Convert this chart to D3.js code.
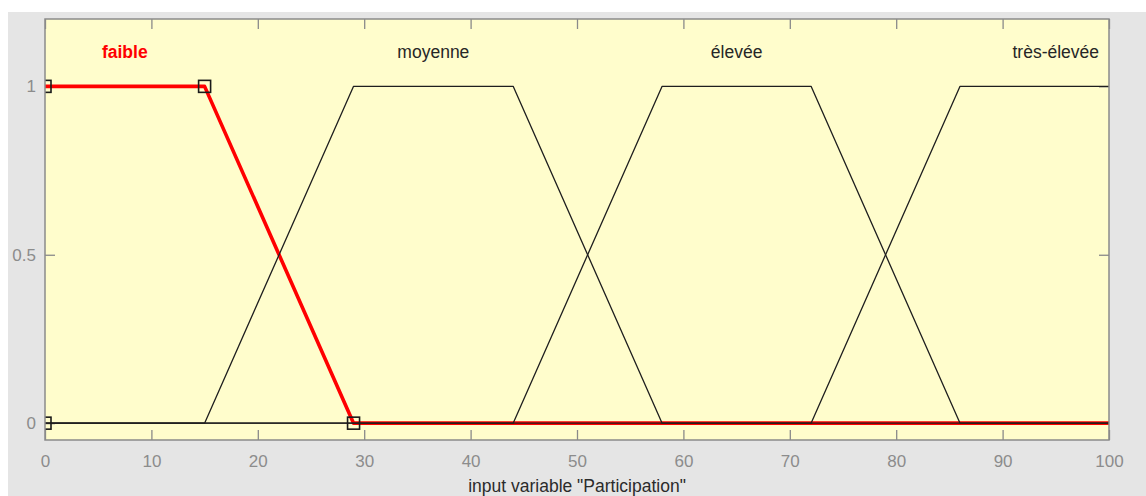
<!DOCTYPE html>
<html>
<head>
<meta charset="utf-8">
<script src="https://cdn.jsdelivr.net/npm/d3@7"></script>
<style>
  html, body { margin: 0; padding: 0; background: #ffffff; }
  svg { display: block; }
  text { font-family: "Liberation Sans", Arial, Helvetica, sans-serif; }
</style>
</head>
<body>
<svg id="chart" width="1146" height="496"></svg>
<script>
// ---- data ----
const categories = ["faible", "moyenne", "élevée", "très-élevée"];
const mfParams = [
  [0, 0, 15, 29],
  [15, 29, 44, 58],
  [44, 58, 72, 86],
  [72, 86, 100, 100]
];
const labelX = [7.5, 36.5, 65, 95];
const selectedMF = "faible";
const xRange = [0, 100];
const yRange = [-0.05, 1.2];
const xTicks = [0, 10, 20, 30, 40, 50, 60, 70, 80, 90, 100];
const yTicks = [0, 0.5, 1];
const yTickLabels = ["0", "0.5", "1"];
const xLabel = 'input variable "Participation"';

// ---- layout ----
const W = 1146, H = 496;
const plot = { left: 45, right: 1109, top: 19, bottom: 440 };

const svg = d3.select("#chart");
svg.append("rect").attr("x", 8).attr("y", 12).attr("width", W - 8).attr("height", H - 12).attr("fill", "#e5e5e5");
svg.append("rect").attr("x", plot.left).attr("y", plot.top)
  .attr("width", plot.right - plot.left).attr("height", plot.bottom - plot.top)
  .attr("fill", "#fffdcc");

const x = d3.scaleLinear().domain(xRange).range([plot.left, plot.right]);
const y = d3.scaleLinear().domain(yRange).range([plot.bottom, plot.top]);

svg.append("defs").append("clipPath").attr("id", "clip")
  .append("rect").attr("x", plot.left).attr("y", plot.top)
  .attr("width", plot.right - plot.left).attr("height", plot.bottom - plot.top);

// ---- axes (ticks inward) ----
const tickLen = 10;
const axisColor = "#8a8a8a";
const bottomAxis = svg.append("g").attr("transform", `translate(0,${plot.bottom})`)
  .call(d3.axisBottom(x).tickValues(xTicks).tickSizeInner(-tickLen).tickSizeOuter(0).tickPadding(15).tickFormat(d3.format("d")));
const topAxis = svg.append("g").attr("transform", `translate(0,${plot.top})`)
  .call(d3.axisTop(x).tickValues(xTicks).tickSizeInner(-tickLen).tickSizeOuter(0).tickFormat(""));
const leftAxis = svg.append("g").attr("transform", `translate(${plot.left},0)`)
  .call(d3.axisLeft(y).tickValues(yTicks).tickSizeInner(-tickLen).tickSizeOuter(0).tickPadding(9)
    .tickFormat((d, i) => yTickLabels[i]));
const rightAxis = svg.append("g").attr("transform", `translate(${plot.right},0)`)
  .call(d3.axisRight(y).tickValues(yTicks).tickSizeInner(-tickLen).tickSizeOuter(0).tickFormat(""));

[bottomAxis, topAxis, leftAxis, rightAxis].forEach(g => {
  g.select(".domain").remove();
  g.selectAll(".tick line").attr("stroke", axisColor).attr("stroke-width", 1.3);
  g.selectAll(".tick text").attr("fill", "#8c8c8c").style("font-size", "17px")
    .style("font-family", '"Liberation Sans", Arial, sans-serif');
});
bottomAxis.selectAll(".tick text").attr("dy", "0.71em");

// ---- membership functions ----
function vertices(p) {
  const [a, b, c, d] = p;
  const pts = [];
  if (a > xRange[0]) { pts.push([xRange[0], 0]); pts.push([a, 0]); }
  pts.push([b, 1]);
  pts.push([c, 1]);
  if (d > c) pts.push([d, 0]);
  if (d < xRange[1]) pts.push([xRange[1], 0]);
  return pts;
}
const line = d3.line().x(d => x(d[0])).y(d => y(d[1]));
const mfG = svg.append("g").attr("clip-path", "url(#clip)");

const mfData = categories.map((name, i) => ({ name, params: mfParams[i], pts: vertices(mfParams[i]), lx: labelX[i] }));
const sel = mfData.find(d => d.name === selectedMF);

// selected (red, thick) first
mfG.append("path").attr("d", line(sel.pts)).attr("fill", "none")
  .attr("stroke", "#ff0000").attr("stroke-width", 3.6).attr("stroke-linejoin", "round");

// others (black, thin) on top
mfG.selectAll("path.mf").data(mfData.filter(d => d.name !== selectedMF)).join("path")
  .attr("class", "mf").attr("d", d => line(d.pts)).attr("fill", "none")
  .attr("stroke", "#1e1e1e").attr("stroke-width", 1.3).attr("stroke-linejoin", "round");

// markers on selected
const mk = [[sel.params[0], 0], [sel.params[1], 1], [sel.params[2], 1], [sel.params[3], 0]];
const sq = 12;
mfG.selectAll("rect.mk").data(mk).join("rect").attr("class", "mk")
  .attr("x", d => x(d[0]) - sq / 2).attr("y", d => y(d[1]) - sq / 2)
  .attr("width", sq).attr("height", sq)
  .attr("fill", "none").attr("stroke", "#1a1a1a").attr("stroke-width", 1.6);

// MF labels
svg.selectAll("text.mfl").data(mfData).join("text").attr("class", "mfl")
  .attr("x", d => x(d.lx)).attr("y", 58)
  .attr("text-anchor", "middle")
  .style("font-size", "17.5px")
  .style("font-weight", d => d.name === selectedMF ? "bold" : "normal")
  .attr("fill", d => d.name === selectedMF ? "#ff0000" : "#262626")
  .text(d => d.name);

// box
svg.append("rect").attr("x", plot.left).attr("y", plot.top)
  .attr("width", plot.right - plot.left).attr("height", plot.bottom - plot.top)
  .attr("fill", "none").attr("stroke", axisColor).attr("stroke-width", 1.5);

// x label
svg.append("text").attr("x", (plot.left + plot.right) / 2).attr("y", 492)
  .attr("text-anchor", "middle").style("font-size", "17.5px").attr("fill", "#2b2b2b")
  .text(xLabel);
</script>
</body>
</html>
